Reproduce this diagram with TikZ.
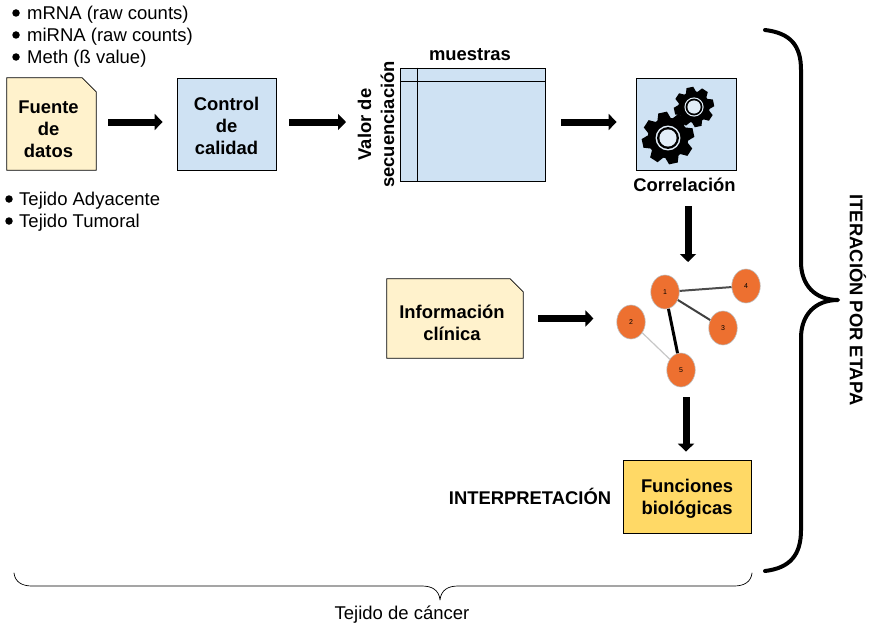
\documentclass[tikz,border=0pt]{standalone}
\usepackage{fontspec}
\setmainfont{Liberation Sans}
\usetikzlibrary{arrows.meta,shapes.geometric}
\definecolor{docyellow}{HTML}{FFF2CC}
\definecolor{boxblue}{HTML}{CFE2F3}
\definecolor{boxgold}{HTML}{FFD966}
\definecolor{netorange}{HTML}{ED7030}
\newcommand{\mygear}[3]{%
  \begin{scope}[shift={(#1,#2)}]
  \fill[black] (0,0) circle ({#3*0.78});
  \foreach \a in {0,45,...,315}{
    \fill[black,rotate=\a+12] ({#3*0.7},{-#3*0.27}) -- ({#3},{-#3*0.17}) -- ({#3},{#3*0.17}) -- ({#3*0.7},{#3*0.27}) -- cycle;
  }
  \fill[boxblue!60!white] (0,0) circle ({#3*0.48});
  \fill[black] (0,0) circle ({#3*0.42});
  \fill[boxblue!60!white] (0,0) circle ({#3*0.33});
  \end{scope}}
\tikzset{
  x=1pt,y=-1pt,
  txt/.style={font=\fontsize{18.5}{18.5}\selectfont,inner sep=0pt,anchor=west},
  btxt/.style={font=\fontsize{18.4}{22}\bfseries\selectfont,align=center,inner sep=0pt},
  docbox/.style={draw=black,fill=docyellow,line width=0.8pt,line join=miter},
  flatbox/.style={draw=black,line width=0.8pt,minimum width=#1,inner sep=0pt},
  blockarrow/.style={line width=7pt,-{Triangle[length=8pt,width=16pt]},black},
  netnode/.style={ellipse,fill=netorange,draw=black!25,line width=0.6pt,minimum width=28.5pt,minimum height=34pt,inner sep=0pt,font=\fontsize{7}{7}\selectfont},
  brace/.style={draw=black,line cap=round,line join=round},
  bulletdot/.style={circle,fill=black,inner sep=0pt,minimum size=7.5pt},
}
\begin{document}
\begin{tikzpicture}
\useasboundingbox (0,0) rectangle (874,626);

% left bullets
\foreach \yy/\tt/\nn in {13/mRNA (raw counts)/ba,35/miRNA (raw counts)/bb,57/Meth (ß value)/bc}{
  \node[bulletdot] (\nn d) at (16,\yy) {};
  \node[txt] (\nn) at (27,\yy+1.5) {\tt};
}
\foreach \yy/\tt/\nn in {199/Tejido Adyacente/bd,221/Tejido Tumoral/be}{
  \node[bulletdot] (\nn d) at (9,\yy) {};
  \node[txt] (\nn) at (19,\yy+1.5) {\tt};
}

% Fuente
\node[minimum width=89pt,minimum height=92pt,inner sep=0pt] (fuente) at (51.5,124) {};
\path[docbox] (fuente.north west) -- ([xshift=-14pt]fuente.north east) -- ([yshift=-14pt]fuente.north east) -- (fuente.south east) -- (fuente.south west) -- cycle;
\node[btxt] (fuentet) at ([xshift=-3pt,yshift=-5.5pt]fuente.center) {Fuente\\de\\datos};

% Control
\node[flatbox=99pt,minimum height=92pt,fill=boxblue] (control) at (226.5,124) {};
\node[btxt] (controlt) at ([yshift=-1.5pt]control.center) {Control\\de\\calidad};

% Matrix
\node[flatbox=145.5pt,minimum height=113pt,fill=boxblue] (matriz) at (473,124.5) {};
\draw[line width=0.8pt] ([xshift=18pt]matriz.north west) -- ([xshift=18pt]matriz.south west);
\draw[line width=0.8pt] ([yshift=-14pt]matriz.north west) -- ([yshift=-14pt]matriz.north east);
\node[btxt] (muestras) at (470,54.5) {muestras};
\node[btxt,font=\fontsize{18.4}{23}\bfseries\selectfont,rotate=90] (valor) at (376,124.5) {Valor de\\secuenciación};

% Correlacion
\node[flatbox=100pt,minimum height=92pt,fill=boxblue] (corr) at (686,124) {};
\mygear{668}{138}{26}
\mygear{694}{107}{20}
\node[btxt] (corrt) at (684.5,185) {Correlación};

% Info clinica
\node[minimum width=136pt,minimum height=79pt,inner sep=0pt] (info) at (455,318.5) {};
\path[docbox] (info.north west) -- ([xshift=-13pt]info.north east) -- ([yshift=-13pt]info.north east) -- (info.south east) -- (info.south west) -- cycle;
\node[btxt] (infot) at ([xshift=-3pt,yshift=-4pt]info.center) {Información\\clínica};

% Network
\node[netnode] (n1) at (665,292) {1};
\node[netnode] (n4) at (746,286) {4};
\node[netnode] (n3) at (723,328) {3};
\node[netnode] (n2) at (631,322) {2};
\node[netnode] (n5) at (681,370) {5};
\draw[black!70,line width=2pt] (n1) -- (n4);
\draw[black!75,line width=2pt] (n1) -- (n3);
\draw[black,line width=3pt] (n1) -- (n5);
\draw[black!22,line width=1.2pt] (n2) -- (n5);

% Funciones
\node[flatbox=128pt,minimum height=73pt,fill=boxgold] (func) at (687,496.5) {};
\node[btxt] (funct) at ([yshift=-2pt]func.center) {Funciones\\biológicas};
\node[btxt] (interp) at (530,496) {INTERPRETACIÓN};

% Block arrows
\coordinate (a2end) at (346,122);
\coordinate (a4start) at (688,206);
\coordinate (a4end) at (688,262);
\draw[blockarrow] ([xshift=12pt,yshift=2pt]fuente.east) -- ([xshift=-14pt,yshift=2pt]control.west);
\draw[blockarrow] ([xshift=13pt,yshift=2pt]control.east) -- (a2end);
\draw[blockarrow] ([xshift=15pt,yshift=2.5pt]matriz.east) -- ([xshift=-19pt,yshift=2pt]corr.west);
\draw[blockarrow] (a4start) -- (a4end);
\draw[blockarrow] ([xshift=15pt]info.east) -- ([xshift=-23pt,yshift=3.5pt]n2.west);
\draw[blockarrow] ([xshift=5pt,yshift=-10pt]n5.south) -- ([xshift=-1pt,yshift=8pt]func.north);

% Big brace
\coordinate (bt) at (765,30);
\coordinate (bb) at (765,571);
\coordinate (btip) at (838,300);
\draw[brace,line width=4pt] (bt) .. controls (790,33) and (801,45) .. (801,70) -- (801,262) .. controls (801,285) and (815,300) .. (btip) .. controls (815,300) and (801,315) .. (801,338) -- (801,530) .. controls (801,555) and (790,568) .. (bb);
\node[btxt,rotate=-90] (iter) at (858,300) {ITERACIÓN POR ETAPA};

% Bottom brace
\coordinate (lt) at (14,573);
\coordinate (rt) at (752,573);
\coordinate (ltip) at (440,600);
\draw[brace,line width=0.7pt] (lt) .. controls (15,582) and (22,586) .. (32,586) -- (422,586) .. controls (432,586) and (439,590) .. (ltip) .. controls (441,590) and (448,586) .. (458,586) -- (734,586) .. controls (744,586) and (751,582) .. (rt);
\node[txt,anchor=center] (tc) at (402,614.5) {Tejido de cáncer};
\end{tikzpicture}
\end{document}
